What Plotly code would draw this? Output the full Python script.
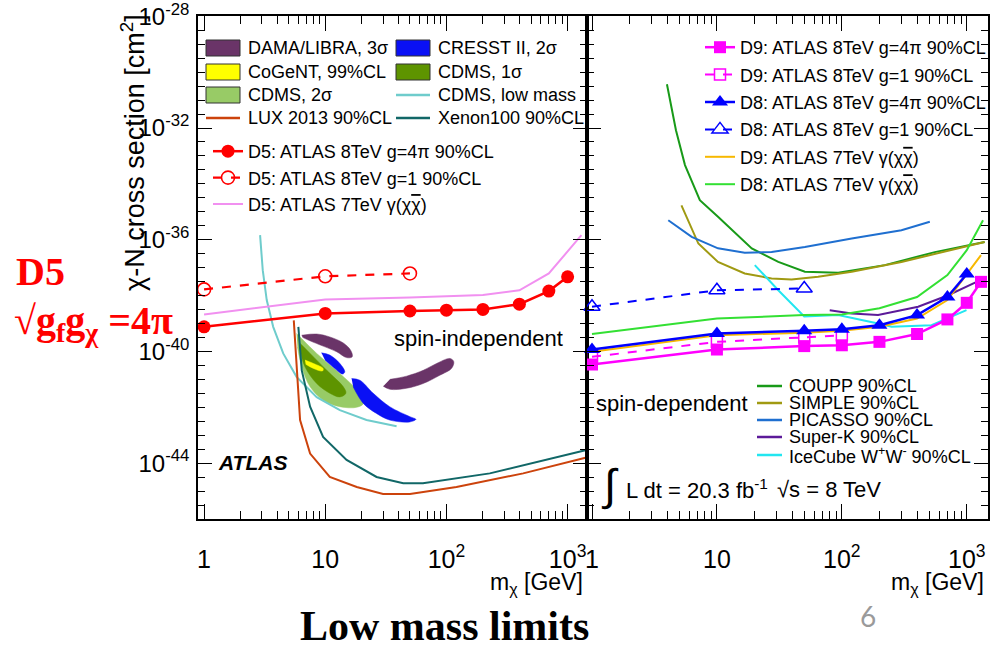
import plotly.graph_objects as go
from plotly.subplots import make_subplots

W, H = 996, 653


def fx(p):
    return p / W


def fy(p):
    return 1 - p / H


FONT = "Liberation Sans, Arial, sans-serif"
SERIF = "Liberation Serif, Times New Roman, serif"

# ---------------- spin-independent panel (left) ----------------
d5_mass = [1, 10, 50, 100, 200, 400, 700, 1000]
d5_g4pi = [7.6e-40, 2.3e-39, 2.8e-39, 3.0e-39, 3.2e-39, 4.9e-39, 1.45e-38, 4.7e-38]
d5_g1_mass = [1, 10, 50]
d5_g1 = [1.66e-38, 4.9e-38, 6.2e-38]
d5_7tev_mass = [1, 10, 50, 100, 200, 400, 700, 1300]
d5_7tev = [2.1e-39, 7.2e-39, 8.5e-39, 9.3e-39, 1.05e-38, 1.55e-38, 6.2e-38, 1.45e-36]

cdms_lm_mass = [2.9, 3.05, 3.29, 3.72, 4.5, 5.8, 8.5, 13.2, 21.9, 38.8]
cdms_lm = [1.45e-36, 8.1e-38, 6.9e-39, 7.6e-40, 8.5e-41, 1.23e-41, 2.3e-42, 7.9e-43, 3.5e-43, 2.1e-43]

lux_mass = [5.5, 5.8, 6.2, 7.5, 10.9, 18.2, 30, 50, 121, 430, 1430]
lux = [1.3e-39, 2.1e-41, 3.5e-43, 2.2e-44, 3.2e-45, 1.4e-45, 7.8e-46, 7.8e-46, 1.4e-45, 4.3e-45, 1.6e-44]

xe_mass = [6.0, 6.4, 7.5, 9.6, 15, 26.5, 44, 64, 228, 1430]
xe = [7.6e-40, 2.1e-41, 1.05e-42, 8.7e-44, 1.3e-44, 3.2e-45, 1.9e-45, 1.9e-45, 4.3e-45, 2.95e-44]

# signal regions (closed contours)
dama1_mass = [6.39, 8.5, 10.9, 14.1, 16.2, 16.7, 15.0, 12.4, 9.6, 7.48, 6.5]
dama1 = [3.8e-40, 4.2e-40, 3.3e-40, 2.0e-40, 1.1e-40, 6.4e-41, 6.0e-41, 9.8e-41, 1.55e-40, 2.4e-40, 3.2e-40]
dama2_mass = [34.2, 46.9, 64.3, 82.9, 107, 115, 110, 88.2, 64.3, 46.9, 34.2, 30.1]
dama2 = [1.0e-41, 1.3e-41, 2.1e-41, 3.7e-41, 5.6e-41, 4.3e-41, 2.45e-41, 1.4e-41, 7.1e-42, 4.8e-42, 4.4e-42, 5.7e-42]
cresst1_mass = [9.3, 10.9, 13.2, 14.5, 13.9, 12.0, 9.95]
cresst1 = [8.9e-41, 7.4e-41, 3.7e-41, 1.86e-41, 1.55e-41, 2.45e-41, 4.9e-41]
cresst2_mass = [16.5, 19.3, 24.9, 34, 50, 56, 50, 34, 26.5, 20.6, 17]
cresst2 = [1.07e-41, 9.3e-42, 3.16e-42, 1.05e-42, 4.6e-43, 3.7e-43, 3.0e-43, 3.5e-43, 6.0e-43, 1.38e-42, 5.4e-42]
cdms2s_mass = [5.8, 6.6, 8.5, 13.2, 18.2, 20.6, 18.2, 13.2, 9.6, 7.5, 6.4, 5.9]
cdms2s = [4.4e-40, 2.5e-40, 8.5e-41, 1.62e-41, 4.1e-42, 1.38e-42, 1.0e-42, 1.05e-42, 1.8e-42, 5.4e-42, 2.8e-41, 1.45e-40]
cdms1s_mass = [6.2, 7.5, 10.3, 14.1, 14.8, 13.2, 10.9, 8.5, 6.8, 6.3]
cdms1s = [1.95e-40, 8.5e-41, 2.1e-41, 5.4e-42, 3.2e-42, 2.35e-42, 3.2e-42, 7.1e-42, 2.8e-41, 8.5e-41]
cogent_mass = [6.8, 8.0, 9.6, 9.5, 8.0, 6.9]
cogent = [4.9e-41, 3.7e-41, 2.45e-41, 2.0e-41, 2.45e-41, 3.5e-41]

# ---------------- spin-dependent panel (right) ----------------
d9_mass = [1, 10, 50, 100, 200, 400, 700, 1000, 1300]
d9_g4pi = [3.4e-41, 1.17e-40, 1.55e-40, 1.66e-40, 2.2e-40, 4.2e-40, 1.4e-39, 5.5e-39, 3.1e-38]
d9_g1_mass = [1, 10, 50, 100]
d9_g1 = [6.4e-41, 2.2e-40, 3.2e-40, 3.8e-40]
d8_mass = [1, 10, 50, 100, 200, 400, 700, 1000]
d8_g4pi = [1.17e-40, 4.4e-40, 5.5e-40, 6.2e-40, 8.7e-40, 2.0e-39, 8.9e-39, 5.9e-38]
d8_g1_mass = [1, 10, 50]
d8_g1 = [4.0e-39, 1.55e-38, 1.8e-38]
d9_7tev_mass = [1, 10, 50, 100, 200, 400, 700, 1300]
d9_7tev = [9.8e-41, 3.8e-40, 4.7e-40, 5.5e-40, 7.6e-40, 1.5e-39, 6.9e-39, 2.8e-37]
d8_7tev_mass = [1, 10, 50, 100, 200, 400, 700, 1000, 1350]
d8_7tev = [4.2e-40, 1.5e-39, 2.0e-39, 2.1e-39, 3.5e-39, 8.9e-39, 5.4e-38, 4.2e-37, 5.0e-36]

coupp_mass = [3.98, 4.7, 5.55, 7.3, 10.2, 19, 31, 50.6, 93.5, 221, 555, 1390]
coupp = [3.7e-31, 8.3e-33, 4.7e-34, 2.6e-35, 6.6e-36, 4.9e-37, 1.6e-37, 7.1e-38, 6.5e-38, 1.23e-37, 3.6e-37, 8.3e-37]
simple_mass = [5.2, 7.1, 10.2, 16.7, 27.4, 39.6, 64.6, 120, 300, 1390]
simple = [1.7e-35, 7.3e-37, 1.6e-37, 6.2e-38, 4.1e-38, 3.8e-38, 4.7e-38, 7.1e-38, 1.6e-37, 8.3e-37]
picasso_mass = [4.08, 6.28, 10.2, 16.7, 27.4, 50.6, 120, 300, 506]
picasso = [5.0e-36, 1.26e-36, 4.9e-37, 3.4e-37, 3.6e-37, 5.5e-37, 1.1e-36, 2.2e-36, 4.4e-36]
icecube_mass = [20.1, 31, 50, 93.5, 195, 250, 522, 995]
icecube = [1.23e-37, 1.55e-38, 1.8e-39, 2.0e-39, 1.0e-39, 7.6e-40, 8.7e-40, 3.0e-39]
superk_mass = [80, 120, 195, 408, 710, 1200]
superk = [3.0e-39, 2.3e-39, 2.0e-39, 4.0e-39, 1.03e-38, 3.1e-38]

# ---------------- axes ticks ----------------
x_tickvals = [1, 10, 100, 1000]
x_ticktext = ["1", "10", "10<sup>2</sup>", "10<sup>3</sup>"]
x_minor = [m * 10 ** e for e in range(0, 4) for m in range(2, 10) if m * 10 ** e < 1500]
y_exps = [-28, -32, -36, -40, -44]
y_tickvals = [10.0 ** e for e in y_exps]
y_ticktext = ["10<sup>%d</sup>" % e for e in y_exps]
y_minor = [10 ** (-28 - 0.5 * k) for k in range(1, 37) if k % 8 != 0]

# colours
C_DAMA = "#6a3468"
C_CRESST = "#0a10f5"
C_COGENT = "#ffff00"
C_CDMS1 = "#5e9400"
C_CDMS2 = "#98cb66"
C_CDMSLM = "#6fcccc"
C_LUX = "#cc430c"
C_XE = "#116767"
C_D5 = "#ff0000"
C_D5_7 = "#f190f0"
C_D9 = "#ff00ff"
C_D8 = "#0000ff"
C_D9_7 = "#f7b800"
C_D8_7 = "#33e033"
C_COUPP = "#189a18"
C_SIMPLE = "#a09a12"
C_PICASSO = "#1f6fd0"
C_SUPERK = "#5c1a99"
C_ICE = "#22e6f0"

fig = make_subplots(rows=1, cols=2, shared_yaxes=True, horizontal_spacing=0)


def region(x, y, color):
    fig.add_trace(go.Scatter(x=x, y=y, mode="lines", fill="toself", fillcolor=color,
                             line=dict(color=color, width=0.5, shape="spline", smoothing=1.0),
                             showlegend=False, hoverinfo="skip"), row=1, col=1)


def curve(x, y, color, col, width=2.0, dash="solid", name=None, legend=None,
          rank=None, marker=None, clip=True):
    fig.add_trace(go.Scatter(
        x=x, y=y, mode="lines+markers" if marker else "lines",
        line=dict(color=color, width=width, dash=dash),
        marker=marker, name=name, showlegend=name is not None,
        legend=legend, legendgroup=name, legendrank=rank or 1000,
        cliponaxis=clip, hoverinfo="skip"), row=1, col=col)


OVER = "\u03b3(\u03c7<span style='text-decoration:overline'>\u03c7</span>)"

# left panel: regions then limits
region(cdms2s_mass, cdms2s, C_CDMS2)
region(cdms1s_mass, cdms1s, C_CDMS1)
region(cogent_mass, cogent, C_COGENT)
region(dama1_mass, dama1, C_DAMA)
region(dama2_mass, dama2, C_DAMA)
region(cresst1_mass, cresst1, C_CRESST)
region(cresst2_mass, cresst2, C_CRESST)
curve(cdms_lm_mass, cdms_lm, C_CDMSLM, 1)
curve(xe_mass, xe, C_XE, 1)
curve(lux_mass, lux, C_LUX, 1)
curve(d5_7tev_mass, d5_7tev, C_D5_7, 1, name="D5: ATLAS 7TeV " + OVER, legend="legend", rank=3)
curve(d5_g1_mass, d5_g1, C_D5, 1, width=2.2, dash="dash", name="D5: ATLAS 8TeV g=1 90%CL", legend="legend", rank=2,
      marker=dict(symbol="circle-open", size=13, color=C_D5, line=dict(width=1.6, color=C_D5)), clip=False)
curve(d5_mass, d5_g4pi, C_D5, 1, width=2.5, name="D5: ATLAS 8TeV g=4\u03c0 90%CL", legend="legend", rank=1,
      marker=dict(symbol="circle", size=13, color=C_D5), clip=False)

# right panel
curve(coupp_mass, coupp, C_COUPP, 2)
curve(simple_mass, simple, C_SIMPLE, 2)
curve(picasso_mass, picasso, C_PICASSO, 2)
curve(superk_mass, superk, C_SUPERK, 2)
curve(icecube_mass, icecube, C_ICE, 2)
curve(d8_7tev_mass, d8_7tev, C_D8_7, 2, name="D8: ATLAS 7TeV " + OVER, legend="legend2", rank=6, clip=False)
curve(d9_7tev_mass, d9_7tev, C_D9_7, 2, name="D9: ATLAS 7TeV " + OVER, legend="legend2", rank=5, clip=False)
curve(d9_g1_mass, d9_g1, C_D9, 2, dash="dash", name="D9: ATLAS 8TeV g=1 90%CL", legend="legend2", rank=2,
      marker=dict(symbol="square-open", size=11, color=C_D9, line=dict(width=1.5, color=C_D9)), clip=False)
curve(d9_mass, d9_g4pi, C_D9, 2, width=2.5, name="D9: ATLAS 8TeV g=4\u03c0 90%CL", legend="legend2", rank=1,
      marker=dict(symbol="square", size=12, color=C_D9), clip=False)
curve(d8_g1_mass, d8_g1, C_D8, 2, dash="dash", name="D8: ATLAS 8TeV g=1 90%CL", legend="legend2", rank=4,
      marker=dict(symbol="triangle-up-open", size=14, color=C_D8, line=dict(width=1.5, color=C_D8)), clip=False)
curve(d8_mass, d8_g4pi, C_D8, 2, width=2.5, name="D8: ATLAS 8TeV g=4\u03c0 90%CL", legend="legend2", rank=3,
      marker=dict(symbol="triangle-up", size=14, color=C_D8), clip=False)

tick_common = dict(showgrid=False, zeroline=False, showline=True, linecolor="black", linewidth=1.6,
                   mirror="ticks", ticks="inside", tickcolor="black", tickwidth=1.4,
                   ticklabeloverflow="allow", automargin=False)

xax = dict(type="log", tickmode="array", tickvals=x_tickvals, ticktext=x_ticktext, ticklen=15,
           tickfont=dict(family=FONT, size=25, color="black"), ticklabelstandoff=17,
           minor=dict(tickmode="array", tickvals=x_minor, ticks="inside", ticklen=8, tickwidth=1.4,
                      tickcolor="black", showgrid=False), **tick_common)
fig.update_xaxes(range=[-0.05, 3.16], domain=[fx(198), fx(587)], row=1, col=1, **xax)
fig.update_xaxes(range=[-0.04, 3.17], domain=[fx(587), fx(988)], row=1, col=2, **xax)

yax = dict(type="log", range=[-46, -27.99], domain=[fy(519), fy(16)], tickmode="array", tickvals=y_tickvals,
           ticktext=y_ticktext, ticklen=14, tickfont=dict(family=FONT, size=24, color="black"),
           minor=dict(tickmode="array", tickvals=y_minor, ticks="inside", ticklen=7, tickwidth=1.4,
                      tickcolor="black", showgrid=False), **tick_common)
fig.update_yaxes(row=1, col=1, ticklabelstandoff=2, **yax)
fig.update_yaxes(row=1, col=2, showticklabels=False, **yax)

shapes = []
annotations = []


def text(x, y, s, size=18, xanchor="left", color="black", family=FONT, angle=0, yanchor="middle"):
    annotations.append(dict(x=fx(x), y=fy(y), xref="paper", yref="paper", text=s, showarrow=False,
                            xanchor=xanchor, yanchor=yanchor, textangle=angle,
                            font=dict(family=family, size=size, color=color)))


def box_entry(x0, y, label, color):
    shapes.append(dict(type="rect", xref="paper", yref="paper", x0=fx(x0), x1=fx(x0 + 34),
                       y0=fy(y + 8), y1=fy(y - 8), fillcolor=color, line=dict(color="#333333", width=1)))
    text(x0 + 40, y, label)


def line_entry(x0, y, label, color, length=34, gap=6):
    shapes.append(dict(type="line", xref="paper", yref="paper", x0=fx(x0), x1=fx(x0 + length),
                       y0=fy(y), y1=fy(y), line=dict(color=color, width=2.5)))
    text(x0 + length + gap, y, label)


# top-left legend block (two columns)
box_entry(206, 48, "DAMA/LIBRA, 3\u03c3", C_DAMA)
box_entry(206, 72, "CoGeNT, 99%CL", C_COGENT)
box_entry(206, 95, "CDMS, 2\u03c3", C_CDMS2)
line_entry(206, 118, "LUX 2013 90%CL", C_LUX)
box_entry(396, 48, "CRESST II, 2\u03c3", C_CRESST)
box_entry(396, 72, "CDMS, 1\u03c3", C_CDMS1)
line_entry(396, 95, "CDMS, low mass", C_CDMSLM)
line_entry(396, 118, "Xenon100 90%CL", C_XE)

# bottom-right legend block
line_entry(757, 386, "COUPP 90%CL", C_COUPP, length=25, gap=5)
line_entry(757, 403, "SIMPLE 90%CL", C_SIMPLE, length=25, gap=5)
line_entry(757, 420, "PICASSO 90%CL", C_PICASSO, length=25, gap=5)
line_entry(757, 437, "Super-K 90%CL", C_SUPERK, length=25, gap=5)
line_entry(757, 455, "IceCube W<sup>+</sup>W<sup>-</sup> 90%CL", C_ICE, length=25, gap=5)

# labels
text(133, 153, "\u03c7-N cross section [cm<sup>2</sup>]", size=27, xanchor="center", angle=-90)
text(585, 583, "m<sub>\u03c7</sub> [GeV]", size=23, xanchor="right")
text(986, 583, "m<sub>\u03c7</sub> [GeV]", size=23, xanchor="right")
text(392, 338, "spin-independent", size=22)
text(594, 403, "spin-dependent", size=22)
text(216, 462, "<b><i>ATLAS</i></b>", size=21)
text(599, 485, "\u222b", size=44)
text(624, 489, "L dt = 20.3 fb<sup>-1</sup>", size=22)
text(775, 489, "\u221as = 8 TeV", size=22)

text(14, 271, "<b>D5</b>", size=40, color="#ff0000", family=SERIF)
text(12, 323, "<b>\u221ag<sub>f</sub>g<sub>\u03c7</sub> =4\u03c0</b>", size=40, color="#ff0000", family=SERIF)
text(444, 626, "<b>Low mass limits</b>", size=42, xanchor="center", family=SERIF)
text(868, 616, "6", size=28, xanchor="center", color="#9a9a9a", family="Lato, Open Sans, sans-serif")

legend_common = dict(font=dict(family=FONT, size=18, color="black"), bgcolor="rgba(0,0,0,0)",
                     borderwidth=0, xanchor="left", yanchor="top", itemclick=False, itemdoubleclick=False)

fig.update_layout(
    width=W, height=H, margin=dict(l=0, r=0, t=0, b=0, autoexpand=False),
    paper_bgcolor="white", plot_bgcolor="white", showlegend=True,
    legend=dict(x=fx(208), y=fy(133), tracegroupgap=0, **legend_common),
    legend2=dict(x=fx(700), y=fy(29), tracegroupgap=1, **legend_common),
    shapes=shapes, annotations=annotations,
)

fig.write_html("out.html")
